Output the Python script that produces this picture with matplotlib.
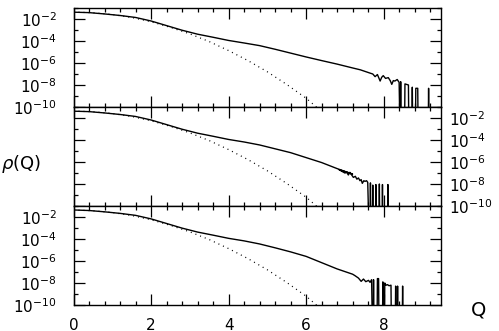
import numpy as np
import matplotlib
matplotlib.use("Agg")
import matplotlib.pyplot as plt

# ---------------- data (log10 rho) ----------------
q_smooth = [0.0, 0.4, 0.8, 1.2, 1.6, 2.0, 2.4, 2.8, 3.2, 3.6, 4.0, 4.4, 4.8,
            5.2, 5.6, 6.0, 6.4, 6.8, 7.2]
FLOOR = -12.0  # empty bin (below the axis)

p1_smooth = [-1.38, -1.42, -1.54, -1.68, -1.86, -2.18, -2.60, -3.02, -3.38, -3.66, -3.95,
             -4.18, -4.42, -4.75, -5.10, -5.45, -5.78, -6.10, -6.45]
p1_tail_q = [7.40, 7.55, 7.65, 7.72, 7.78, 7.84, 7.91, 7.95, 7.99, 8.05, 8.12, 8.17, 8.21,
             8.25, 8.29, 8.35, 8.40, 8.42, 8.43, 8.44, 8.45, 8.54, 8.55, 8.64, 8.65,
             8.73, 8.74, 8.75, 8.82, 8.83, 8.88, 8.89, 9.15, 9.16, 9.17, 9.5]
p1_tail = [-6.62, -6.80, -6.92, -7.00, -7.24, -7.05, -7.64, -7.30, -7.15, -7.40, -7.33, -7.60,
           -7.94, -7.60, -7.64, -7.50, -7.76, FLOOR, FLOOR, -7.70, FLOOR, FLOOR, -7.90, -8.00,
           FLOOR, FLOOR, -8.20, FLOOR, FLOOR, -8.30, -8.30, FLOOR, FLOOR, -8.30, FLOOR, FLOOR]

p2_smooth = [-1.38, -1.42, -1.54, -1.68, -1.86, -2.18, -2.60, -3.02, -3.38, -3.66, -3.95,
             -4.18, -4.45, -4.80, -5.15, -5.60, -6.05, -6.60, -7.10]
p2_tail_q = [6.85, 7.00, 7.05, 7.09, 7.13, 7.18, 7.22, 7.27, 7.31, 7.35, 7.39, 7.42, 7.45,
             7.49, 7.52, 7.56, 7.59, 7.62, 7.65, 7.66, 7.67, 7.71, 7.72, 7.73, 7.79,
             7.80, 7.81, 7.88, 7.89, 7.90, 7.96, 7.97, 7.98, 8.10, 8.11, 8.12, 9.5]
p2_tail = [-6.70, -7.00, -6.95, -7.18, -6.94, -7.20, -7.40, -7.30, -7.56, -7.45, -7.70, -7.60,
           -7.94, -7.70, -7.76, -7.70, -7.85, FLOOR, FLOOR, -7.90, FLOOR, FLOOR, -8.10, FLOOR,
           FLOOR, -8.05, FLOOR, FLOOR, -8.00, FLOOR, FLOOR, -8.05, FLOOR, FLOOR, -8.05, FLOOR,
           FLOOR]

p3_smooth = [-1.36, -1.41, -1.53, -1.67, -1.85, -2.17, -2.59, -3.01, -3.37, -3.65, -3.94,
             -4.17, -4.45, -4.80, -5.17, -5.58, -6.15, -6.72, -7.20]
p3_tail_q = [7.26, 7.35, 7.42, 7.48, 7.54, 7.61, 7.65, 7.69, 7.71, 7.73, 7.74, 7.75,
             7.83, 7.84, 7.87, 7.88, 7.97, 7.98, 7.99, 8.02, 8.03, 8.06, 8.10, 8.14,
             8.19, 8.20, 8.30, 8.31, 8.32, 8.35, 8.36, 8.37, 8.48, 8.49, 8.50, 9.5]
p3_tail = [-7.33, -7.55, -7.85, -7.64, -7.88, -7.76, -7.94, -7.70, FLOOR, FLOOR, -7.70, FLOOR,
           FLOOR, -7.60, -7.60, FLOOR, FLOOR, -7.90, FLOOR, FLOOR, -8.00, -8.20, -8.15, -8.25,
           -8.20, FLOOR, FLOOR, -8.28, FLOOR, FLOOR, -8.28, FLOOR, FLOOR, -8.28, FLOOR, FLOOR]

q_gauss = [0.0, 0.5, 1.0, 1.5, 2.0, 2.5, 3.0, 3.5, 4.0, 4.5, 5.0, 5.5, 6.0, 6.3]
gauss = [-1.37, -1.43, -1.59, -1.86, -2.25, -2.76, -3.35, -4.05, -4.87, -5.78, -6.80,
         -7.95, -9.20, -10.10]

ytick_major = [-10, -8, -6, -4, -2]
ytick_minor = [-9, -7, -5, -3, -1]
xtick_major = [0, 2, 4, 6, 8]

panels = [
    (p1_smooth, p1_tail_q, p1_tail, "left"),
    (p2_smooth, p2_tail_q, p2_tail, "right"),
    (p3_smooth, p3_tail_q, p3_tail, "left"),
]

# ---------------- figure ----------------
W, H = 499, 331
fig = plt.figure(figsize=(W / 100, H / 100), dpi=100)

left = 73.5 / W
width = (441 - 73.5) / W
tops = [8, 107, 206]
ph = 99

for i, (smooth, tq, tv, side) in enumerate(panels):
    bottom = 1 - (tops[i] + ph) / H
    ax = fig.add_axes([left, bottom, width, ph / H])
    qq = list(q_smooth) + list(tq)
    vv = list(smooth) + list(tv)
    ax.plot(qq, 10.0 ** np.array(vv), color="black", lw=1.0,
            solid_joinstyle="round", solid_capstyle="butt")
    ax.plot(q_gauss, 10.0 ** np.array(gauss), color="black", lw=0.9,
            linestyle=(0, (0.8, 3.2)))
    ax.set_yscale("log")
    ax.set_ylim(1e-10, 1e-1)
    ax.set_xlim(0, 9.48)
    ax.set_yticks([10.0 ** e for e in ytick_major])
    ax.set_yticklabels([r"$10^{%d}$" % e for e in ytick_major])
    ax.set_yticks([10.0 ** e for e in ytick_minor], minor=True)
    ax.yaxis.set_minor_formatter(matplotlib.ticker.NullFormatter())
    ax.set_xticks(xtick_major)
    ax.set_xticks(np.arange(0, 9.5, 0.4), minor=True)
    for s in ax.spines.values():
        s.set_linewidth(1.0)
    ax.tick_params(which="both", direction="in", top=True, right=True, width=0.9,
                   labelsize=11)
    ax.tick_params(which="major", length=8)
    ax.tick_params(which="minor", length=3)
    if side == "right":
        ax.tick_params(axis="y", labelleft=False, labelright=True, pad=6)
    else:
        ax.tick_params(axis="y", pad=12)
    if i < 2:
        ax.tick_params(axis="x", labelbottom=False)
    else:
        ax.set_xticklabels([str(v) for v in xtick_major])
        ax.tick_params(axis="x", pad=9)

fig.text(21 / W, 1 - 164 / H, r"$\rho$(Q)", fontsize=13, ha="center", va="center")
fig.text(479 / W, 1 - 310 / H, "Q", fontsize=14, ha="center", va="center")

fig.savefig("out.png", dpi=100)
